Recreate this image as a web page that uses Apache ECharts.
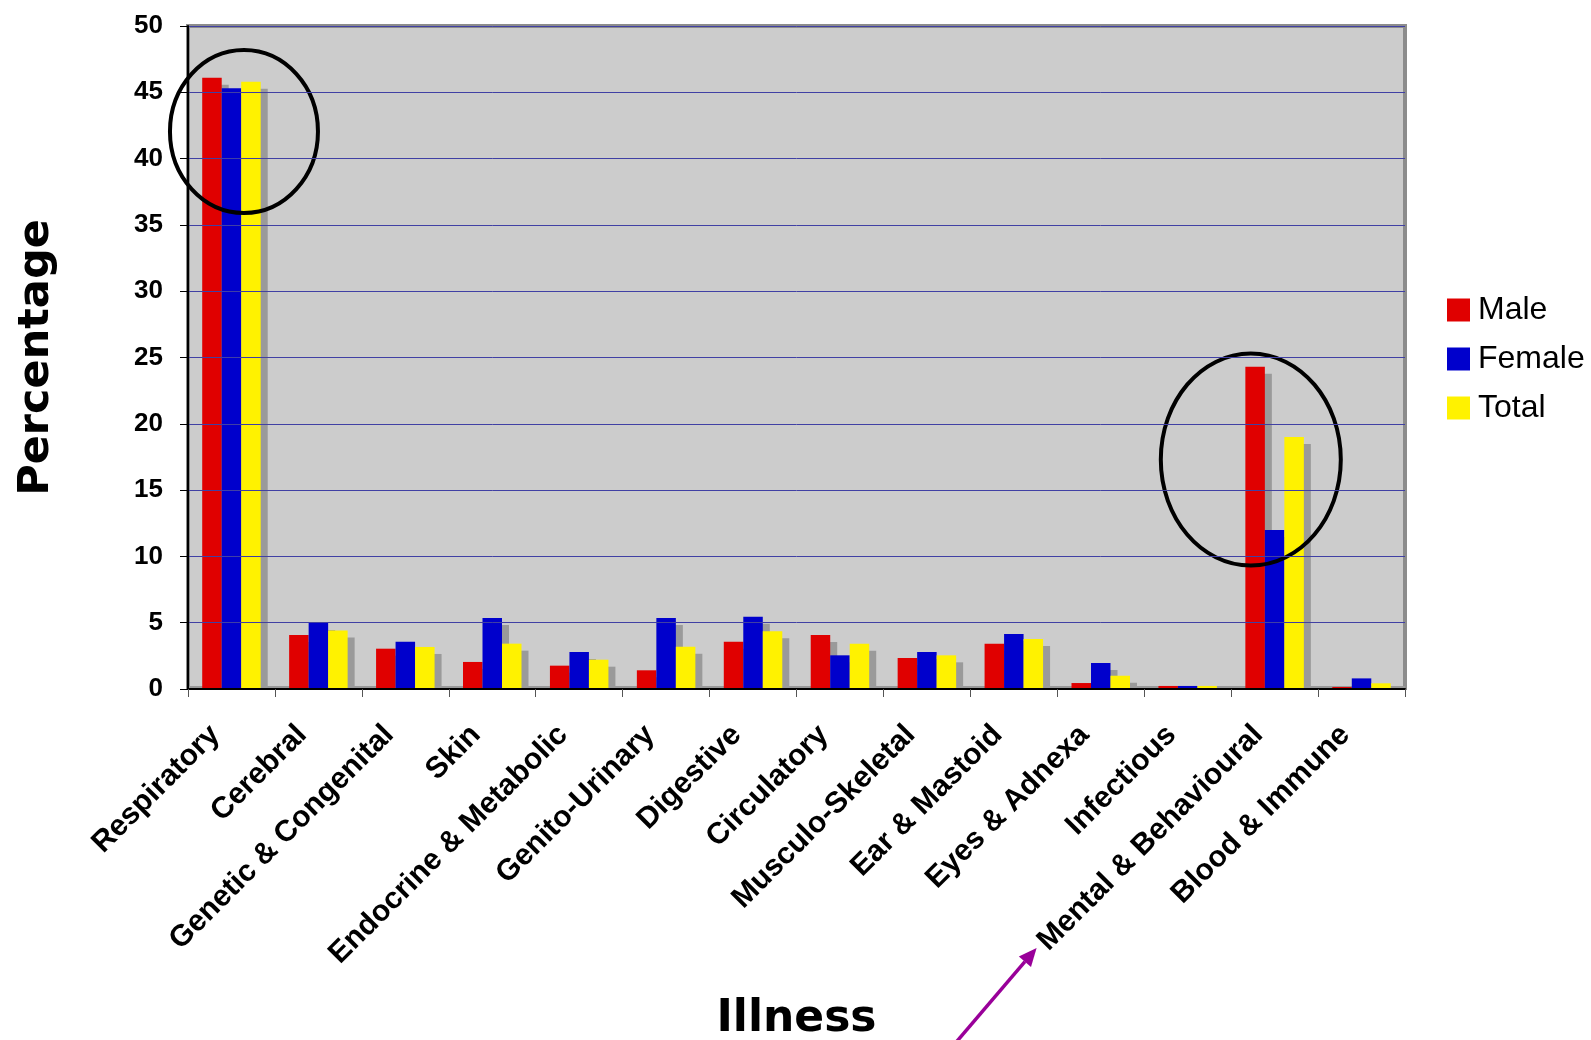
<!DOCTYPE html>
<html>
<head>
<meta charset="utf-8">
<script src="https://cdn.jsdelivr.net/npm/echarts@6/dist/echarts.min.js"></script>
<style>
html,body{margin:0;padding:0;background:#fff;}
#c{width:1591px;height:1040px;}
</style>
</head>
<body>
<div id="c"></div>
<script>
const categories = ['Respiratory','Cerebral','Genetic & Congenital','Skin','Endocrine & Metabolic','Genito-Urinary','Digestive','Circulatory','Musculo-Skeletal','Ear & Mastoid','Eyes & Adnexa','Infectious','Mental & Behavioural','Blood & Immune'];
const male   = [46.1, 4.07, 3.04, 2.04, 1.76, 1.41, 3.57, 4.07, 2.34, 3.42, 0.45, 0.23, 24.3, 0.15];
const female = [45.3, 4.97, 3.57, 5.35, 2.79, 5.35, 5.45, 2.54, 2.79, 4.15, 1.96, 0.23, 12.0, 0.80];
const total  = [45.8, 4.42, 3.17, 3.42, 2.21, 3.19, 4.35, 3.42, 2.54, 3.77, 1.00, 0.23, 19.0, 0.43];
const seriesNames = ['Male','Female','Total'];
const yTicks = [0,5,10,15,20,25,30,35,40,45,50];
// annotation ellipses: [category, value at centre]
const highlights = [['Respiratory', 42.05], ['Mental & Behavioural', 17.3]];

const colors = ['#e00000','#0000cc','#fff200'];
const chart = echarts.init(document.getElementById('c'), null, {renderer:'canvas'});

const barStyle = c => ({color:c, shadowColor:'#9a9a9a', shadowBlur:0, shadowOffsetX:7, shadowOffsetY:7});

const option = {
  animation:false,
  grid:{left:188, top:26, right:186, bottom:351, outerBoundsMode:'none', containLabel:false, show:true, backgroundColor:'#cccccc', borderColor:'#8c8c8c', borderWidth:4},
  legend:{
    data:seriesNames, orient:'vertical', left:1447, top:294, padding:0, icon:'rect',
    itemWidth:23, itemHeight:23, itemGap:17,
    itemStyle:{shadowBlur:0, shadowOffsetX:0, shadowOffsetY:0, shadowColor:'rgba(0,0,0,0)'},
    textStyle:{fontFamily:'Liberation Sans', fontSize:32, color:'#000', lineHeight:30, padding:[0,0,0,3]}
  },
  xAxis:{
    type:'category', data:categories, z:200,
    name:'Illness', nameLocation:'middle', nameGap:309,
    nameTextStyle:{fontFamily:'DejaVu Sans', fontWeight:'bold', fontSize:44, color:'#000'},
    axisLine:{lineStyle:{color:'#000', width:2}},
    axisTick:{show:true, length:8, lineStyle:{color:'#555', width:1}},
    axisLabel:{interval:0, rotate:45, margin:25, padding:[0,23,0,0], fontFamily:'Liberation Sans', fontWeight:'bold', fontSize:30, color:'#000'}
  },
  yAxis:{
    type:'value', min:yTicks[0], max:yTicks[yTicks.length-1], interval:yTicks[1]-yTicks[0], z:200,
    name:'Percentage', nameLocation:'middle', nameGap:130, nameRotate:90,
    nameTextStyle:{fontFamily:'DejaVu Sans', fontWeight:'bold', fontSize:43, color:'#000'},
    axisLine:{show:true, lineStyle:{color:'#000', width:2}},
    axisTick:{show:true, length:8, lineStyle:{color:'#000', width:1}},
    axisLabel:{margin:25, fontFamily:'Liberation Sans', fontWeight:'bold', fontSize:26, color:'#000'},
    splitLine:{show:true, lineStyle:{color:'#4040a4', width:1}}
  },
  series:[
    {name:'Male', type:'bar', data:male, barWidth:19.5, barGap:'0%', itemStyle:barStyle(colors[0])},
    {name:'Female', type:'bar', data:female, barWidth:19.5, barGap:'0%', itemStyle:barStyle(colors[1])},
    {name:'Total', type:'bar', data:total, barWidth:19.5, barGap:'0%', itemStyle:barStyle(colors[2])}
  ]
};
chart.setOption(option);

// annotations (anchored via the chart's own scales)
const g = [];
const base = chart.convertToPixel({gridIndex:0}, [categories[0], 0]);
const lastX = chart.convertToPixel({gridIndex:0}, [categories[categories.length-1], 0]);
const catW = (lastX[0]-base[0])/(categories.length-1);
// white strip hiding bar shadows below the axis
g.push({type:'rect', z:100, shape:{x:base[0]-catW/2-2, y:base[1]+1, width:catW*categories.length+12, height:9}, style:{fill:'#fff'}});
// darker floor strip along the plot bottom
g.push({type:'rect', z:1, shape:{x:base[0]-catW/2, y:base[1]-3, width:catW*categories.length, height:3}, style:{fill:'#999999'}});
const ellSpec = [{dx:12.5, rx:74, ry:81.5},{dx:-23.8, rx:90, ry:106}];
highlights.forEach((h,i)=>{
  const p = chart.convertToPixel({gridIndex:0}, [h[0], h[1]]);
  g.push({type:'ellipse', z:150, shape:{cx:p[0]+ellSpec[i].dx, cy:p[1], rx:ellSpec[i].rx, ry:ellSpec[i].ry}, style:{fill:null, stroke:'#000', lineWidth:4}});
});
// purple arrow pointing at "Mental & Behavioural" label
const mb = chart.convertToPixel({gridIndex:0}, ['Mental & Behavioural', 0]);
const tip = [mb[0]-238, mb[1]+259];
const tail = [tip[0]-82, tip[1]+96];
const ang = Math.atan2(tip[1]-tail[1], tip[0]-tail[0]);
const L = 18, W = 8;
const bx = tip[0]-L*Math.cos(ang), by = tip[1]-L*Math.sin(ang);
g.push({type:'line', z:150, shape:{x1:tail[0], y1:tail[1], x2:bx, y2:by}, style:{stroke:'#990099', lineWidth:3.5}});
g.push({type:'polygon', z:150, shape:{points:[tip,[bx+W*Math.sin(ang), by-W*Math.cos(ang)],[bx-W*Math.sin(ang), by+W*Math.cos(ang)]]}, style:{fill:'#990099'}});
chart.setOption({graphic:g});
</script>
</body>
</html>
